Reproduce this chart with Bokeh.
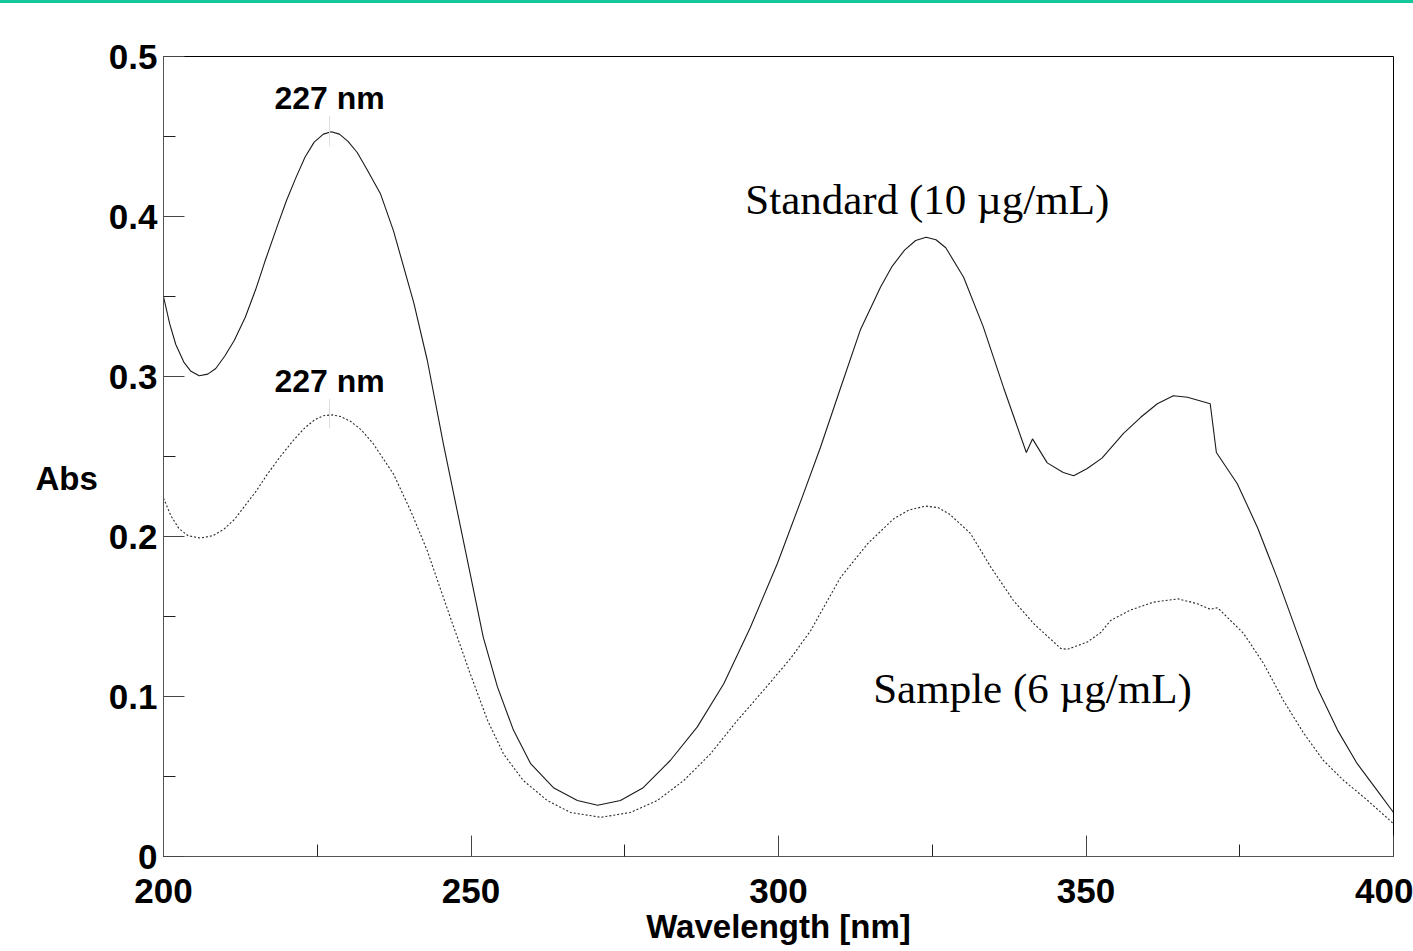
from bokeh.plotting import figure
from bokeh.models import Range1d, FixedTicker, Div
from bokeh.layouts import column
from bokeh.core.properties import value
from bokeh.embed import file_html
from bokeh.resources import INLINE

# ---- data ----
wl_standard = [200.0, 201.0, 202.0, 203.3, 204.4, 205.8, 207.2, 208.5, 210.0, 211.5,
               213.3, 215.0, 216.5, 218.5, 220.0, 221.5, 223.0, 224.5, 226.0, 227.3,
               228.6, 230.0, 231.5, 233.0, 235.3, 237.4, 240.7, 242.9, 245.5, 249.1,
               252.0, 254.3, 256.9, 259.7, 263.4, 267.3, 270.6, 274.3, 278.0, 282.4,
               286.8, 291.1, 295.4, 299.8, 303.8, 306.8, 310.1, 313.3, 316.6, 318.5,
               320.5, 322.3, 324.0, 325.6, 327.2, 330.1, 333.3, 336.6, 340.3, 341.3,
               343.7, 346.3, 348.0, 350.2, 352.6, 356.1, 358.9, 361.6, 364.2, 366.5,
               370.2, 371.2, 374.6, 377.9, 381.1, 384.4, 387.6, 390.9, 394.1, 397.4,
               400.0]
abs_standard = [0.350, 0.333, 0.320, 0.309, 0.3035, 0.3005, 0.3015, 0.305, 0.313, 0.3225,
                0.337, 0.3545, 0.372, 0.394, 0.410, 0.424, 0.437, 0.4465, 0.4515, 0.4530,
                0.4515, 0.447, 0.440, 0.430, 0.414, 0.391, 0.346, 0.310, 0.258, 0.191,
                0.137, 0.106, 0.079, 0.058, 0.043, 0.035, 0.032, 0.035, 0.043, 0.060,
                0.081, 0.108, 0.143, 0.183, 0.224, 0.2555, 0.293, 0.329, 0.356, 0.369,
                0.379, 0.385, 0.387, 0.3855, 0.3805, 0.362, 0.331, 0.293, 0.2525, 0.261,
                0.246, 0.240, 0.238, 0.2425, 0.249, 0.2645, 0.2745, 0.283, 0.288, 0.287,
                0.283, 0.2525, 0.233, 0.2055, 0.174, 0.139, 0.1055, 0.079, 0.058, 0.041,
                0.0275]

wl_sample = [200.0, 201.2, 202.5, 204.0, 206.0, 208.0, 209.8, 211.5, 213.0, 215.0,
             216.9, 219.0, 221.1, 223.0, 224.6, 226.0, 227.4, 228.8, 230.4, 232.2,
             234.1, 237.4, 240.2, 242.9, 246.4, 249.9, 252.7, 255.3, 258.5, 262.4,
             266.2, 271.1, 275.9, 280.3, 284.6, 288.9, 293.3, 297.6, 302.0, 305.2,
             306.8, 310.1, 314.5, 318.7, 321.2, 323.9, 326.0, 327.8, 331.2, 334.5,
             338.2, 341.5, 345.9, 347.0, 350.2, 352.4, 354.0, 357.2, 361.0, 365.0,
             368.1, 370.2, 371.4, 373.5, 375.6, 378.9, 382.1, 385.4, 388.6, 391.9,
             395.8, 400.0]
abs_sample = [0.224, 0.213, 0.205, 0.2005, 0.199, 0.2005, 0.2045, 0.2105, 0.218, 0.228,
              0.239, 0.250, 0.260, 0.268, 0.2730, 0.2755, 0.2760, 0.2750, 0.2720, 0.2665,
              0.258, 0.239, 0.216, 0.191, 0.152, 0.114, 0.085, 0.064, 0.0475, 0.035,
              0.0275, 0.0245, 0.0275, 0.035, 0.0475, 0.064, 0.085, 0.104, 0.124, 0.141,
              0.152, 0.1745, 0.1955, 0.211, 0.2165, 0.219, 0.2180, 0.2140, 0.202, 0.181,
              0.160, 0.1455, 0.130, 0.1295, 0.134, 0.140, 0.1475, 0.154, 0.159, 0.161,
              0.158, 0.1545, 0.1555, 0.1475, 0.1395, 0.1205, 0.0975, 0.077, 0.060, 0.0475,
              0.035, 0.0205]

peak_wl = [227, 227]
peak_labels = ["227 nm", "227 nm"]
peak_label_y = [0.474, 0.2975]
peak_mark_top = [0.463, 0.286]
peak_mark_bottom = [0.444, 0.2675]

series_labels = ["Standard (10 µg/mL)", "Sample (6 µg/mL)"]
series_label_x = [294.6, 315.4]
series_label_y = [0.4104, 0.105]

x_ticks = [200, 250, 300, 350, 400]
x_minor = [225, 275, 325, 375]
y_ticks = [0, 0.1, 0.2, 0.3, 0.4, 0.5]
y_minor = [0.05, 0.15, 0.25, 0.35, 0.45]
y_tick_labels = {0: "0", 0.1: "0.1", 0.2: "0.2", 0.3: "0.3", 0.4: "0.4", 0.5: "0.5"}

SANS = "Liberation Sans"
SERIF = "Liberation Serif"

p = figure(width=1413, height=951, output_backend="svg", toolbar_location=None,
           x_range=Range1d(200, 400), y_range=Range1d(0, 0.5),
           min_border_left=163, min_border_right=20, min_border_top=56,
           min_border_bottom=95,
           x_axis_label="Wavelength [nm]", y_axis_label="\nAbs")

p.background_fill_color = "white"
p.border_fill_color = "white"
p.outline_line_color = "black"
p.outline_line_width = 1
p.xgrid.visible = False
p.ygrid.visible = False

for ax in (p.xaxis[0], p.yaxis[0]):
    ax.axis_line_color = "#555555"
    ax.major_tick_in = 21
    ax.major_tick_out = 0
    ax.minor_tick_in = 12
    ax.minor_tick_out = 0
    ax.major_tick_line_color = "#444444"
    ax.minor_tick_line_color = "#222222"
    ax.major_label_text_font = SANS
    ax.major_label_text_font_size = "35px"
    ax.major_label_text_font_style = "bold"
    ax.major_label_text_color = "black"
    ax.axis_label_text_font = SANS
    ax.axis_label_text_font_size = "33px"
    ax.axis_label_text_font_style = "bold"
    ax.axis_label_text_color = "black"

p.xaxis[0].ticker = FixedTicker(ticks=x_ticks, minor_ticks=x_minor)
p.yaxis[0].ticker = FixedTicker(ticks=y_ticks, minor_ticks=y_minor)
p.yaxis[0].major_label_overrides = y_tick_labels
p.xaxis[0].major_label_standoff = 22
p.xaxis[0].axis_label_standoff = 2
p.yaxis[0].major_label_standoff = 6
p.yaxis[0].axis_label_standoff = 8
p.yaxis[0].axis_label_orientation = "horizontal"

# curves
p.line(wl_standard, abs_standard, line_color="#1a1a1a", line_width=1.1)
p.line(wl_sample, abs_sample, line_color="#2a2a2a", line_width=1.1, line_dash="2 2")

# peak markers
p.segment(x0=peak_wl, y0=peak_mark_bottom, x1=peak_wl, y1=peak_mark_top,
          line_color="#dddddd", line_width=1)

p.text(x=peak_wl, y=peak_label_y, text=peak_labels, text_font=value(SANS),
       text_font_size="32px", text_font_style="bold", text_align="center",
       text_baseline="alphabetic", text_color="black")

p.text(x=series_label_x, y=series_label_y, text=series_labels, text_font=value(SERIF),
       text_font_size="43px", text_align="left", text_baseline="alphabetic",
       text_color="black")

bar = Div(text="", width=1413, height=3,
          styles={"position": "fixed", "top": "0px", "left": "0px", "margin": "0px",
                  "padding": "0px", "width": "1413px", "height": "3px",
                  "background-color": "#12c898"})

layout = column(p, bar, spacing=0)

open("out.html", "w").write(file_html(layout, INLINE))
